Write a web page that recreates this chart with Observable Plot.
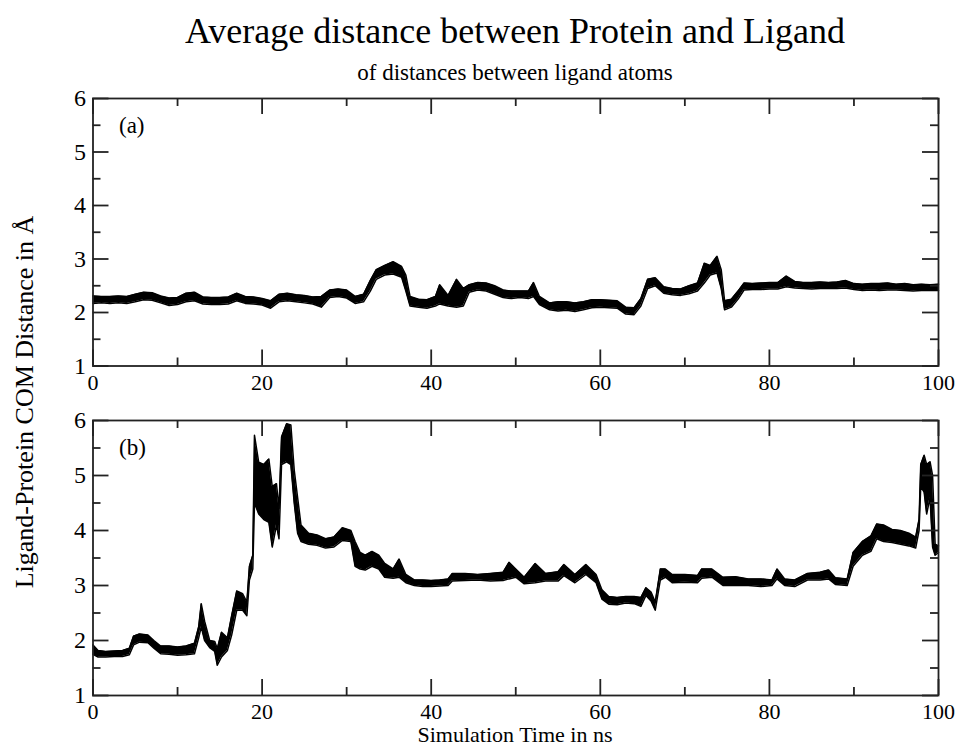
<!DOCTYPE html>
<html><head><meta charset="utf-8">
<script src="https://cdn.jsdelivr.net/npm/d3@7"></script>
<script src="https://cdn.jsdelivr.net/npm/@observablehq/plot@0.6"></script>
<style>
body{margin:0;background:#fff;}
#wrap{position:relative;width:959px;height:749px;font-family:"Liberation Serif","Times New Roman",serif;color:#000;overflow:hidden;}
.lbl{position:absolute;white-space:nowrap;line-height:1;}
.pn{position:absolute;left:0;}
</style></head><body>
<div id="wrap">
  <div class="lbl" style="left:0;width:1030px;text-align:center;top:13px;font-size:36px;">Average distance between Protein and Ligand</div>
  <div class="lbl" style="left:0;width:1030px;text-align:center;top:61px;font-size:23px;">of distances between ligand atoms</div>
  <div class="lbl" style="left:0;width:1030px;text-align:center;top:724px;font-size:22px;">Simulation Time in ns</div>
  <div class="lbl" style="left:25px;top:402px;font-size:26px;transform:translate(-50%,-50%) rotate(-90deg);">Ligand-Protein COM Distance in Å</div>
  <div class="pn" id="pa" style="top:88px;"></div>
  <div class="pn" id="pb" style="top:410px;"></div>
</div>
<script>
// Tick values
const xMajor = [0, 20, 40, 60, 80, 100];
const xMinor = [10, 30, 50, 70, 90];
const yMajor = [1, 2, 3, 4, 5, 6];
const yMinor = [1.5, 2.5, 3.5, 4.5, 5.5];

// Panel (a): time (ns), lower and upper edge of the noisy trace (Å)
const tA = [0,1,2,3,4,5,6,7,8,9,10,11,12,13,14,15,16,17,18,19,20,21,22,23,24,25,26,27,28,29,30,31,32,32.8,33.5,34.5,35.5,36.5,37,37.5,38.5,39.5,40.5,41,42,43,43.8,44.5,45.5,46.5,47.5,48.5,49.5,50.5,51.5,52.1,52.8,54,55,56,57,58,59,60,61,62,63,64,64.8,65.6,66.5,67.5,68.5,69.5,70.5,71.5,72.3,73,73.8,74.3,74.7,75.5,76.3,77,78,79,80,81,82,83,84,85,86,87,88,89,90,91,92,93,94,95,96,97,98,99,100];
const loA = [2.17,2.18,2.17,2.18,2.17,2.20,2.24,2.23,2.18,2.13,2.15,2.20,2.22,2.16,2.15,2.15,2.16,2.22,2.17,2.16,2.14,2.08,2.20,2.22,2.20,2.18,2.16,2.10,2.28,2.30,2.27,2.17,2.20,2.40,2.62,2.70,2.72,2.66,2.40,2.12,2.10,2.08,2.12,2.16,2.12,2.10,2.12,2.38,2.42,2.40,2.34,2.28,2.26,2.28,2.26,2.30,2.15,2.05,2.03,2.04,2.02,2.05,2.09,2.10,2.09,2.08,1.97,1.96,2.12,2.45,2.50,2.36,2.33,2.32,2.35,2.40,2.55,2.70,2.74,2.45,2.05,2.10,2.25,2.42,2.43,2.43,2.44,2.44,2.48,2.46,2.45,2.44,2.45,2.45,2.45,2.46,2.43,2.41,2.42,2.41,2.42,2.42,2.41,2.40,2.41,2.41,2.41];
const hiA = [2.31,2.30,2.30,2.31,2.30,2.34,2.38,2.37,2.31,2.27,2.28,2.36,2.38,2.29,2.28,2.28,2.29,2.36,2.30,2.29,2.26,2.22,2.34,2.36,2.33,2.32,2.29,2.30,2.42,2.44,2.42,2.30,2.34,2.60,2.80,2.88,2.95,2.86,2.70,2.30,2.25,2.24,2.30,2.52,2.32,2.62,2.45,2.52,2.56,2.55,2.50,2.42,2.40,2.40,2.40,2.56,2.30,2.18,2.20,2.20,2.18,2.20,2.24,2.24,2.23,2.22,2.10,2.09,2.26,2.62,2.65,2.48,2.45,2.44,2.50,2.55,2.92,2.88,3.05,2.80,2.22,2.25,2.40,2.55,2.54,2.55,2.56,2.56,2.68,2.58,2.56,2.56,2.57,2.56,2.57,2.60,2.54,2.53,2.54,2.54,2.55,2.53,2.54,2.52,2.53,2.52,2.53];

// Panel (b)
const tB = [0,0.6,1.5,2.5,3.5,4.3,4.8,5.5,6.5,7.2,8,9,10,11,12,12.5,12.8,13.2,13.8,14.4,14.7,15.2,15.9,16.4,17,17.7,18.2,18.5,18.9,19.1,19.6,20.2,20.8,21.2,21.7,22,22.3,22.9,23.4,23.8,24.2,24.6,25.5,26.5,27.5,28.5,29.5,30.5,31,31.6,32.2,33,33.8,34.5,35.5,36.2,37,38,39,40,41,42,42.5,44,45.5,47,48.5,49.2,50,51,52.3,53.5,55,55.7,57,58.3,59.5,60.2,61,62,63,64,64.8,65.4,66,66.5,67.1,67.7,68.5,70,71.5,72,73.2,74.5,76,77.5,79,80.3,80.9,81.8,83,84.5,86,87,87.8,89.2,89.9,91,92,92.7,93.5,94.5,95.5,96.5,97.3,97.7,97.9,98.3,98.6,99,99.3,99.6,100];
const loB = [1.75,1.70,1.70,1.71,1.71,1.74,1.92,1.97,1.96,1.86,1.76,1.75,1.73,1.74,1.76,2.05,2.25,2.00,1.87,1.80,1.55,1.70,1.82,2.10,2.55,2.55,2.45,3.10,3.30,4.50,4.30,4.20,4.15,3.70,4.10,3.85,5.20,5.25,5.20,4.50,3.95,3.80,3.75,3.73,3.68,3.70,3.82,3.80,3.35,3.30,3.28,3.35,3.30,3.15,3.13,3.15,3.05,3.00,2.98,2.98,2.99,3.00,3.08,3.09,3.10,3.08,3.09,3.12,3.15,3.03,3.05,3.08,3.08,3.18,3.05,3.20,3.05,2.75,2.66,2.65,2.68,2.67,2.62,2.82,2.72,2.55,3.10,3.15,3.05,3.06,3.05,3.13,3.15,3.00,3.00,3.00,2.98,3.00,3.12,3.00,2.98,3.10,3.10,3.12,3.02,3.00,3.35,3.55,3.62,3.85,3.80,3.78,3.75,3.72,3.68,4.00,4.80,4.70,4.30,4.60,3.70,3.55,3.60];
const hiB = [1.92,1.82,1.80,1.81,1.82,1.86,2.08,2.12,2.10,2.00,1.90,1.90,1.88,1.90,1.95,2.25,2.67,2.35,2.00,1.98,1.85,2.15,2.05,2.45,2.90,2.85,2.70,3.35,3.55,5.73,5.24,5.20,5.30,4.80,4.85,4.40,5.70,5.94,5.92,5.10,4.60,4.10,3.95,3.92,3.85,3.88,4.05,4.00,3.80,3.60,3.55,3.62,3.55,3.40,3.30,3.48,3.20,3.10,3.10,3.09,3.10,3.12,3.22,3.22,3.20,3.22,3.24,3.42,3.30,3.15,3.40,3.22,3.25,3.38,3.20,3.38,3.20,2.92,2.80,2.78,2.80,2.80,2.78,2.96,2.88,2.70,3.30,3.30,3.20,3.20,3.18,3.30,3.30,3.15,3.16,3.12,3.12,3.10,3.30,3.12,3.10,3.22,3.24,3.28,3.14,3.12,3.60,3.80,3.90,4.12,4.10,4.02,4.00,3.95,3.88,4.20,5.20,5.37,5.20,5.25,5.00,3.75,3.72];

const FONT = '"Liberation Serif","Times New Roman",serif';

function panel(t, lo, hi, label, h) {
  const data = t.map((d, i) => ({t: d, lo: lo[i], hi: hi[i]}));
  const mL = 92.5, mR = 21, mT = 10, mB = 40;
  const iw = 959 - mL - mR;
  return Plot.plot({
    width: 959, height: mT + h + mB,
    marginLeft: mL, marginRight: mR, marginTop: mT, marginBottom: mB,
    x: {domain: [0, 100], label: null},
    y: {domain: [1, 6], label: null},
    style: {fontFamily: FONT, color: "#000", background: "transparent", overflow: "visible"},
    marks: [
      Plot.areaY(data, {x: "t", y1: "lo", y2: "hi", fill: "#000"}),
      Plot.line(data, {x: "t", y: "lo", stroke: "#000", strokeWidth: 1.5}),
      Plot.line(data, {x: "t", y: "hi", stroke: "#000", strokeWidth: 1.5}),
      Plot.tickX(xMajor, {x: d => d, insetTop: h - 16, stroke: "#222", strokeWidth: 1.8}),
      Plot.tickX(xMajor, {x: d => d, insetBottom: h - 16, stroke: "#222", strokeWidth: 1.8}),
      Plot.tickX(xMinor, {x: d => d, insetTop: h - 8, stroke: "#222", strokeWidth: 1.8}),
      Plot.tickX(xMinor, {x: d => d, insetBottom: h - 8, stroke: "#222", strokeWidth: 1.8}),
      Plot.tickY(yMajor, {y: d => d, insetRight: iw - 16, stroke: "#222", strokeWidth: 1.8}),
      Plot.tickY(yMajor, {y: d => d, insetLeft: iw - 16, stroke: "#222", strokeWidth: 1.8}),
      Plot.tickY(yMinor, {y: d => d, insetRight: iw - 8, stroke: "#222", strokeWidth: 1.8}),
      Plot.tickY(yMinor, {y: d => d, insetLeft: iw - 8, stroke: "#222", strokeWidth: 1.8}),
      Plot.axisX({ticks: xMajor, tickSize: 0, tickPadding: 8, fontSize: 22, label: null, tickFormat: d => String(d)}),
      Plot.axisY({ticks: yMajor, tickSize: 0, tickPadding: 7, fontSize: 24, label: null, tickFormat: d => String(d)}),
      Plot.frame({stroke: "#222", strokeWidth: 1.8}),
      Plot.text([label], {text: d => d, frameAnchor: "top-left", dx: 26, dy: 27, fontSize: 23, textAnchor: "start", lineAnchor: "middle"})
    ]
  });
}

document.getElementById("pa").appendChild(panel(tA, loA, hiA, "(a)", 267.5));
document.getElementById("pb").appendChild(panel(tB, loB, hiB, "(b)", 275));
</script>
</body></html>
